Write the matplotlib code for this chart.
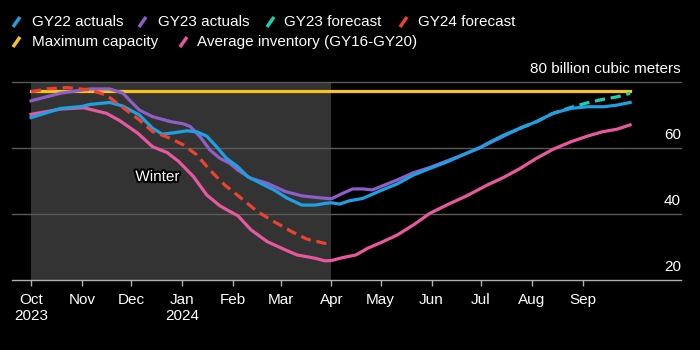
import matplotlib
matplotlib.use("Agg")
import matplotlib.pyplot as plt
import matplotlib.patheffects as pe
from matplotlib.lines import Line2D
import pandas as pd

plt.rcParams['font.family'] = ['Liberation Sans', 'DejaVu Sans']

# ---------------- data ----------------
gy22_dates = ["2023-10-01", "2023-10-19", "2023-11-01", "2023-11-06", "2023-11-18", "2023-11-26",
              "2023-12-06", "2023-12-14", "2023-12-20", "2023-12-27", "2024-01-04", "2024-01-10",
              "2024-01-16", "2024-01-22", "2024-01-28", "2024-02-04", "2024-02-10", "2024-02-18",
              "2024-02-26", "2024-03-05", "2024-03-14", "2024-03-22", "2024-03-28", "2024-04-01",
              "2024-04-06", "2024-04-12", "2024-04-20", "2024-04-26", "2024-05-02", "2024-05-11",
              "2024-05-21", "2024-05-31", "2024-06-11", "2024-06-20", "2024-07-01", "2024-07-05",
              "2024-07-15", "2024-07-25", "2024-08-04", "2024-08-14", "2024-08-25", "2024-09-04",
              "2024-09-14", "2024-09-22", "2024-09-30"]
gy22_vals = [69.2, 72.0, 72.6, 73.2, 73.8, 72.7,
             70.0, 66.0, 64.2, 64.6, 65.2, 64.9,
             63.6, 60.4, 56.9, 54.3, 51.3, 49.3,
             47.3, 44.8, 42.7, 42.7, 43.2, 43.4,
             43.0, 44.0, 44.7, 46.0, 47.3, 49.1,
             51.8, 53.8, 55.9, 57.9, 60.2, 61.4,
             63.9, 66.0, 68.0, 70.5, 72.0, 72.5,
             72.5, 73.0, 73.8]

gy23_dates = ["2023-10-01", "2023-10-19", "2023-11-06", "2023-11-18", "2023-11-26", "2023-11-30",
              "2023-12-06", "2023-12-14", "2023-12-25", "2024-01-02", "2024-01-06", "2024-01-12",
              "2024-01-18", "2024-01-24", "2024-01-30", "2024-02-04", "2024-02-12", "2024-02-22",
              "2024-03-04", "2024-03-14", "2024-03-23", "2024-04-01", "2024-04-08", "2024-04-14",
              "2024-04-20", "2024-04-26", "2024-05-02", "2024-05-11", "2024-05-21", "2024-05-31",
              "2024-06-20", "2024-07-01", "2024-07-25"]
gy23_vals = [74.3, 76.6, 77.9, 77.9, 76.6, 74.5,
             71.5, 69.5, 68.0, 67.3, 66.5, 63.4,
             59.4, 56.9, 55.4, 53.3, 50.8, 49.3,
             46.8, 45.5, 45.0, 44.6, 46.3, 47.6,
             47.6, 47.3, 48.5, 50.3, 52.5, 54.1,
             57.9, 60.2, 66.0]

gy23f_dates = ["2024-07-25", "2024-08-04", "2024-08-14", "2024-08-25", "2024-09-04", "2024-09-13",
               "2024-09-22", "2024-09-30"]
gy23f_vals = [66.0, 68.0, 70.5, 72.3, 73.7, 74.7,
              75.5, 76.6]

gy24f_dates = ["2023-10-01", "2023-10-10", "2023-10-23", "2023-11-06", "2023-11-16", "2023-11-24",
               "2023-12-06", "2023-12-14", "2023-12-25", "2024-01-02", "2024-01-10", "2024-01-18",
               "2024-01-27", "2024-02-06", "2024-02-16", "2024-02-26", "2024-03-08", "2024-03-17",
               "2024-03-28", "2024-04-01"]
gy24f_vals = [77.0, 77.9, 78.3, 77.6, 76.0, 73.0,
              68.5, 65.0, 62.9, 60.9, 57.9, 53.3,
              48.8, 44.8, 40.7, 37.7, 34.6, 32.4,
              31.1, 31.0]

maxcap_dates = ["2023-10-01", "2024-09-30"]
maxcap_vals = [77.4, 77.4]

avg_dates = ["2023-10-01", "2023-10-19", "2023-11-02", "2023-11-16", "2023-11-24", "2023-12-05",
             "2023-12-14", "2023-12-23", "2023-12-30", "2024-01-08", "2024-01-16", "2024-01-24",
             "2024-01-30", "2024-02-04", "2024-02-12", "2024-02-22", "2024-03-04", "2024-03-11",
             "2024-03-22", "2024-03-28", "2024-04-01", "2024-04-08", "2024-04-16", "2024-04-23",
             "2024-05-01", "2024-05-11", "2024-05-21", "2024-05-31", "2024-06-11", "2024-06-22",
             "2024-07-05", "2024-07-15", "2024-07-25", "2024-08-04", "2024-08-14", "2024-08-25",
             "2024-09-04", "2024-09-13", "2024-09-22", "2024-09-30"]
avg_vals = [70.2, 71.8, 72.2, 70.5, 68.3, 64.5,
            60.4, 58.6, 55.9, 51.3, 45.8, 42.5,
            40.8, 39.5, 35.2, 31.6, 29.1, 27.6,
            26.6, 25.8, 25.9, 26.8, 27.6, 29.6,
            31.3, 33.6, 36.7, 40.2, 42.9, 45.4,
            48.8, 51.1, 53.8, 56.9, 59.6, 61.9,
            63.6, 64.9, 65.7, 67.0]

month_ticks = ["2023-10-01", "2023-11-01", "2023-12-01", "2024-01-01", "2024-02-01", "2024-03-01",
               "2024-04-01", "2024-05-01", "2024-06-01", "2024-07-01", "2024-08-01", "2024-09-01"]
month_labels = ["Oct\n2023", "Nov", "Dec", "Jan\n2024", "Feb", "Mar",
                "Apr", "May", "Jun", "Jul", "Aug", "Sep"]
y_ticks = [20, 40, 60, 80]
y_labels = ["20", "40", "60", "80 billion cubic meters"]

winter_start, winter_end = "2023-10-01", "2024-04-01"

# ---------------- colours ----------------
C_BLUE = "#1ea0e4"
C_PURPLE = "#8f5ec8"
C_TEAL = "#16d4b2"
C_RED = "#f0402e"
C_YELLOW = "#f7c31c"
C_PINK = "#e8589f"

def d(lst):
    return pd.to_datetime(lst)

fig = plt.figure(figsize=(7, 3.5), dpi=100, facecolor="black")
ax = fig.add_axes([12/700, 70/350, 669/700, 198/350])
ax.set_facecolor("black")

ax.set_xlim(pd.Timestamp("2023-10-01") - pd.Timedelta(days=11.6),
            pd.Timestamp("2023-10-01") + pd.Timedelta(days=396))
ax.set_ylim(20, 80)

# winter shading
ax.axvspan(pd.Timestamp(winter_start), pd.Timestamp(winter_end), color="#333333", zorder=0, lw=0)

# gridlines
for v in y_ticks[1:]:
    ax.axhline(v, color="#5a5a5a", lw=1.0, zorder=1, clip_on=False)

lw = 2.3
ax.plot(d(maxcap_dates), maxcap_vals, color=C_YELLOW, lw=lw, zorder=2)
ax.plot(d(avg_dates), avg_vals, color=C_PINK, lw=lw, zorder=3)
ax.plot(d(gy23_dates), gy23_vals, color=C_PURPLE, lw=lw, zorder=4)
ax.plot(d(gy23f_dates), gy23f_vals, color=C_TEAL, lw=lw, zorder=5, dashes=(3.2, 1.8))
ax.plot(d(gy22_dates), gy22_vals, color=C_BLUE, lw=lw, zorder=6)
ax.plot(d(gy24f_dates), gy24f_vals, color=C_RED, lw=lw, zorder=7, dashes=(3.2, 1.8))

# spines
for s in ["top", "right", "left"]:
    ax.spines[s].set_visible(False)
ax.spines["bottom"].set_color("#b0b0b0")
ax.spines["bottom"].set_linewidth(1.0)

ax.set_xticks(d(month_ticks))
ax.set_xticklabels(month_labels)
ax.tick_params(axis="x", direction="out", length=4.5, width=1, color="#b0b0b0",
               labelcolor="white", labelsize=11, pad=5)
ax.set_yticks([])

# y labels above gridlines on the right
for v, lab in zip(y_ticks, y_labels):
    ax.annotate(lab, xy=(1.0, v), xycoords=("axes fraction", "data"),
                xytext=(0, 6.5), textcoords="offset points",
                ha="right", va="baseline", color="white", fontsize=11)

# winter label
ax.text(pd.Timestamp("2023-10-01") + pd.Timedelta(days=77), 51.2, "Winter",
        color="white", fontsize=11, ha="center", va="center", zorder=10,
        path_effects=[pe.withStroke(linewidth=3, foreground="black")])

# legend (manual)
legend_items = [
    (13, 32, 22, C_BLUE, "GY22 actuals"),
    (139, 158, 22, C_PURPLE, "GY23 actuals"),
    (267, 284, 22, C_TEAL, "GY23 forecast"),
    (400, 418, 22, C_RED, "GY24 forecast"),
    (13, 32, 42, C_YELLOW, "Maximum capacity"),
    (180, 197, 42, C_PINK, "Average inventory (GY16-GY20)"),
]
for sx, tx, cy, col, lab in legend_items:
    fig.add_artist(Line2D([sx/700, (sx+7)/700], [1-(cy+5)/350, 1-(cy-5)/350],
                          color=col, lw=2.5, transform=fig.transFigure, solid_capstyle="butt"))
    fig.text(tx/700, 1-cy/350, lab, color="white", fontsize=11, ha="left", va="center")

fig.savefig("out.png", dpi=100, facecolor="black")
